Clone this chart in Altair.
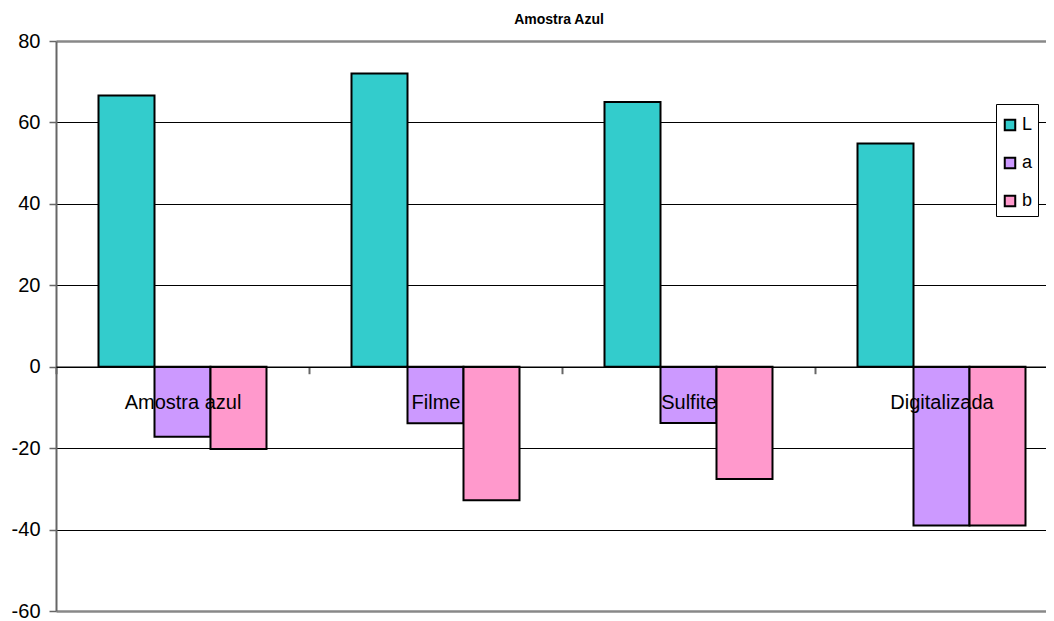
import altair as alt
import pandas as pd

categories = ["Amostra azul", "Filme", "Sulfite", "Digitalizada"]
series = ["L", "a", "b"]
L_values = [66.6, 72.0, 65.0, 54.8]
a_values = [-17.2, -13.9, -13.8, -39.0]
b_values = [-20.2, -32.8, -27.6, -39.0]
colors = ["#33CCCC", "#CC99FF", "#FF99CC"]
y_ticks = [-60, -40, -20, 0, 20, 40, 60, 80]
y_domain = [-60, 80]

rows = []
for s, vals in zip(series, [L_values, a_values, b_values]):
    for c, v in zip(categories, vals):
        rows.append({"cat": c, "serie": s, "valor": v})
df = pd.DataFrame(rows)

W = 990
H = 570
FONT = "Liberation Sans"
zero_offset = -H * (0 - y_domain[0]) / (y_domain[1] - y_domain[0])

chart = alt.Chart(df).mark_bar(stroke="black", strokeWidth=2, clip=True).encode(
    x=alt.X(
        "cat:N",
        sort=categories,
        scale=alt.Scale(range=[0, 1012], paddingInner=0, paddingOuter=0),
        axis=alt.Axis(
            title=None,
            orient="bottom",
            offset=zero_offset,
            labelAngle=0,
            labelFontSize=20,
            labelFont=FONT,
            labelColor="black",
            labelPadding=19,
            tickBand="extent",
            tickColor="#666666",
            tickWidth=2,
            tickSize=7,
            domainColor="black",
            domainWidth=1.5,
            grid=False,
            zindex=1,
        ),
    ),
    xOffset=alt.XOffset(
        "serie:N", sort=series,
        scale=alt.Scale(paddingInner=0, paddingOuter=0.759),
    ),
    y=alt.Y(
        "valor:Q",
        scale=alt.Scale(domain=y_domain, nice=False),
        axis=alt.Axis(
            title=None,
            values=y_ticks,
            labelExpr="datum.value + ''",
            labelFontSize=20,
            labelFont=FONT,
            labelColor="black",
            labelPadding=9,
            tickColor="#666666",
            tickSize=7,
            tickWidth=1.5,
            domainColor="#666666",
            domainWidth=2,
            grid=True,
            gridColor=alt.condition("datum.value == 80 || datum.value == -60",
                                    alt.value("#888888"), alt.value("#000000")),
            gridWidth=alt.condition("datum.value == 80 || datum.value == -60",
                                    alt.value(2.5), alt.value(1)),
            gridOpacity=1,
        ),
    ),
    color=alt.Color(
        "serie:N",
        sort=series,
        scale=alt.Scale(domain=series, range=colors),
        legend=alt.Legend(
            title=" ",
            titleFontSize=4,
            titlePadding=3,
            orient="none",
            legendX=940,
            legendY=63,
            symbolType="square",
            symbolSize=110,
            symbolStrokeColor="black",
            symbolStrokeWidth=2,
            symbolOpacity=1,
            labelFontSize=18,
            labelFont=FONT,
            labelColor="black",
            labelOffset=3,
            padding=5,
            rowPadding=18,
            strokeColor="black",
            fillColor="white",
        ),
    ),
).properties(
    width=W,
    height=H,
    title=alt.TitleParams(
        "Amostra Azul", fontSize=14, fontWeight="bold", font=FONT,
        anchor="middle", frame="group", offset=4, dx=8, color="black",
    ),
    autosize=alt.AutoSizeParams(type="none"),
    padding={"left": 48, "top": 33, "right": 0, "bottom": 10},
).configure_view(stroke=None)

chart.save("out.html", embed_options={"renderer": "svg", "actions": False})
